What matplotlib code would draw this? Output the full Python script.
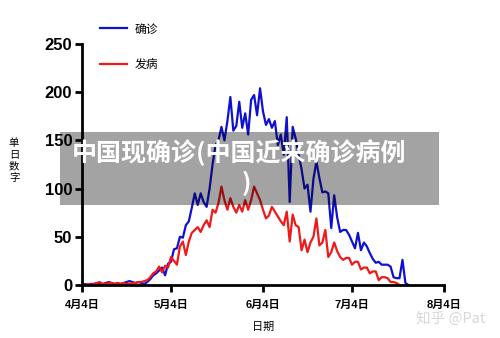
import pandas as pd
import matplotlib.pyplot as plt
from matplotlib.patches import Rectangle

cjk = ['Noto Sans CJK SC', 'DejaVu Sans']
latin = ['Liberation Sans', 'Noto Sans CJK SC']

start = '2020-04-04'

# daily values
confirmed = [0, 1, 0, 1, 1, 2, 1, 1, 2, 3, 2, 1, 2, 1, 2, 3, 4, 3, 2, 3,
             2, 1, 3, 6, 10, 12, 15, 18, 10, 22, 24, 37, 38, 50, 49, 62, 66, 80, 95, 83,
             95, 86, 81, 100, 125, 145, 150, 164, 150, 170, 195, 160, 165, 190, 163, 178, 156, 192, 197, 176,
             204, 180, 166, 172, 163, 170, 145, 156, 135, 174, 86, 164, 152, 135, 120, 100, 104, 76, 110, 128,
             111, 96, 97, 95, 59, 93, 70, 55, 57, 57, 52, 45, 38, 54, 36, 44, 40, 33, 27, 23,
             24, 21, 21, 21, 19, 8, 7, 7, 26, 2, 0]
onset = [0, 0, 1, 0, 1, 2, 3, 1, 1, 2, 2, 1, 2, 1, 2, 1, 1, 2, 2, 3,
         3, 4, 5, 8, 12, 14, 19, 13, 20, 18, 29, 25, 21, 40, 45, 31, 45, 54, 57, 60,
         55, 62, 67, 60, 78, 75, 85, 102, 88, 78, 90, 81, 75, 83, 76, 88, 78, 88, 102, 95,
         88, 78, 69, 72, 81, 76, 71, 66, 62, 76, 45, 73, 62, 60, 36, 47, 34, 44, 50, 69,
         41, 44, 57, 29, 34, 44, 35, 29, 26, 28, 28, 21, 24, 24, 16, 18, 18, 12, 14, 14,
         5, 8, 8, 7, 3, 3, 2, 0]

tick_dates = ['2020-04-04', '2020-05-04', '2020-06-04', '2020-07-04', '2020-08-04']
tick_labels = ['4月4日', '5月4日', '6月4日', '7月4日', '8月4日']
y_ticks = [0, 50, 100, 150, 200, 250]

d_conf = pd.date_range(start, periods=len(confirmed))
d_onset = pd.date_range(start, periods=len(onset))

fig = plt.figure(figsize=(5, 3.38), dpi=100)
ax = fig.add_axes([0.164, 0.157, 0.724, 0.713])

l1, = ax.plot(d_conf, confirmed, color='#1010d0', lw=1.6, label='确诊')
l2, = ax.plot(d_onset, onset, color='#f01818', lw=1.6, label='发病')

ax.set_xlim(pd.Timestamp(tick_dates[0]), pd.Timestamp(tick_dates[-1]))
ax.set_ylim(0, 250)
ax.set_xticks(pd.to_datetime(tick_dates))
ax.set_xticklabels(tick_labels, family=latin, fontsize=8, fontweight='bold')
ax.set_yticks(y_ticks)
ax.set_yticklabels([str(v) for v in y_ticks], family=latin, fontsize=12, fontweight='bold')

for s in ['top', 'right']:
    ax.spines[s].set_visible(False)
for s in ['left', 'bottom']:
    ax.spines[s].set_linewidth(2)
ax.tick_params(width=2, length=5, direction='out', pad=2)
ax.tick_params(axis='x', pad=6)

ax.set_xlabel('日期', family=cjk, fontsize=8, labelpad=8)
fig.text(0.028, 0.525, '单\n日\n数\n字', family=cjk, fontsize=7.5,
         ha='center', va='center', linespacing=1.2)

fig.legend(handles=[l1, l2], loc='upper left', bbox_to_anchor=(0.178, 0.965),
           frameon=False, prop={'family': cjk, 'size': 8.5},
           labelspacing=1.9, handlelength=2.3, handletextpad=0.7)

# grey caption band over the chart
fig.add_artist(Rectangle((0.12, 0.393), 0.758, 0.216, transform=fig.transFigure,
                         facecolor='black', alpha=0.36, edgecolor='none'))
fig.text(0.477, 0.548, '中国现确诊(中国近来确诊病例', family=cjk, fontsize=18,
         fontweight='bold', color='white', ha='center', va='center')
fig.text(0.492, 0.458, ')', family=cjk, fontsize=18,
         fontweight='bold', color='white', ha='center', va='center')

fig.text(0.902, 0.058, '知乎 @Pat', family=cjk, fontsize=10.5, color='#d8d8d8',
         ha='center', va='center')

fig.savefig('out.png', dpi=100)
